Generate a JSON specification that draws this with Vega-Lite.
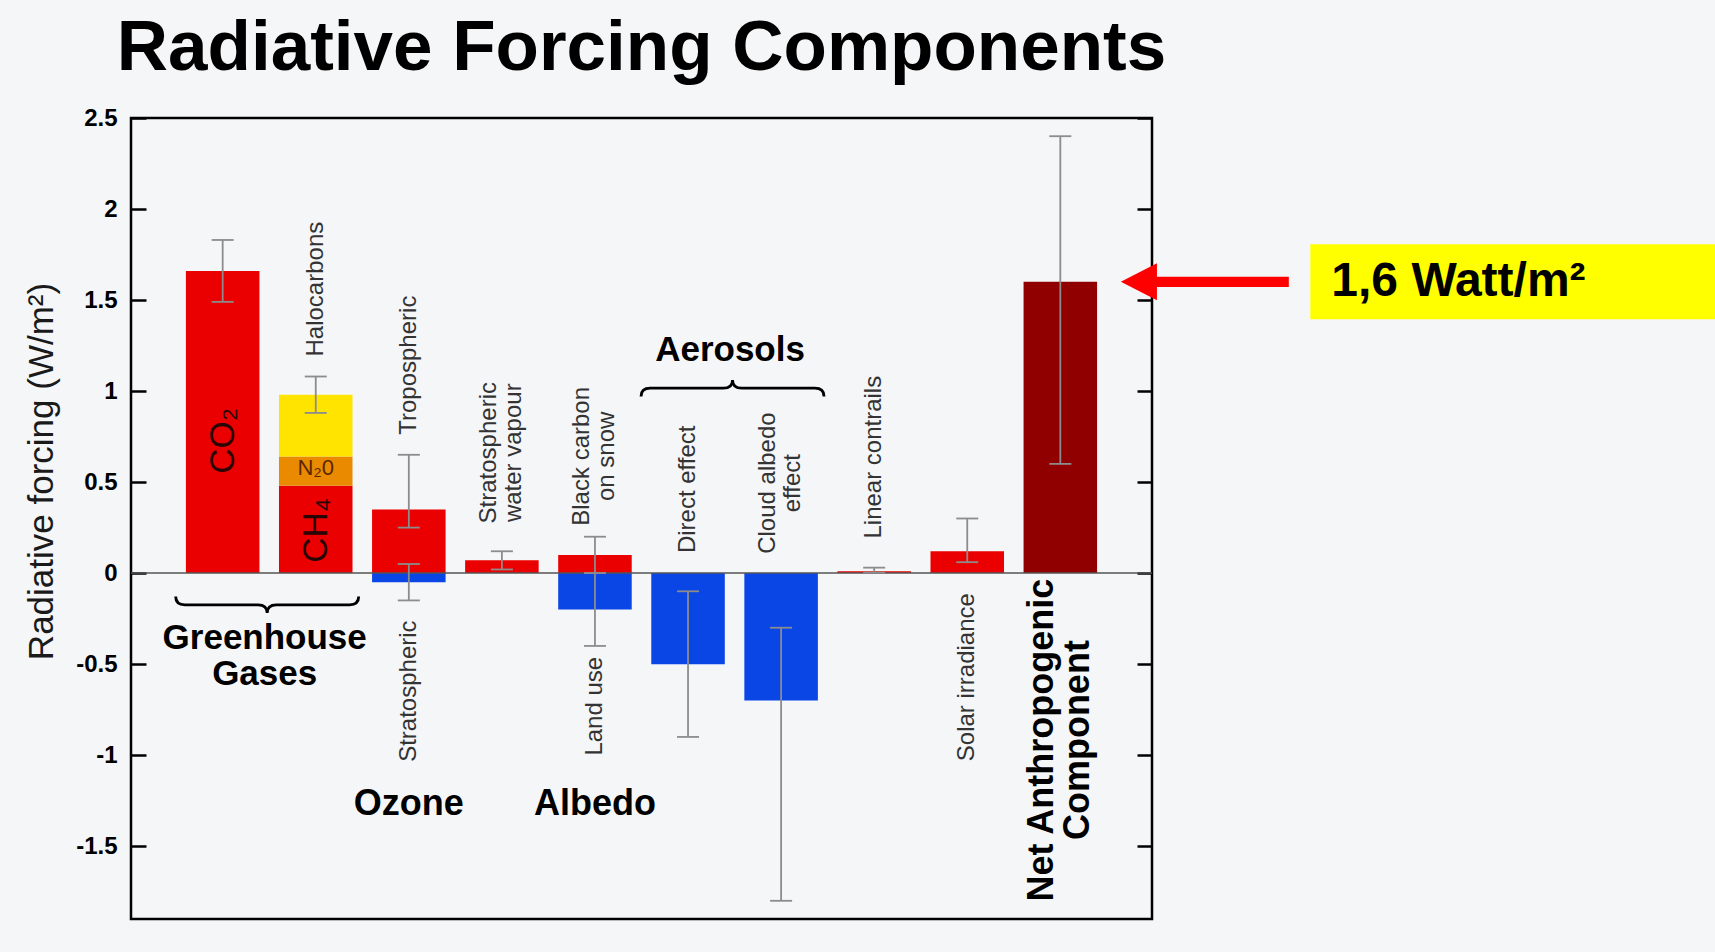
{
  "$schema": "https://vega.github.io/schema/vega-lite/v6.json",
  "width": 1021,
  "height": 801,
  "autosize": {"type": "none"},
  "padding": {"left": 131, "top": 118, "right": 563, "bottom": 33},
  "background": "#f5f6f8",
  "config": {
    "view": {"stroke": "#000000", "strokeWidth": 2.5},
    "font": "Liberation Sans"
  },
  "title": {
    "text": "Radiative Forcing Components",
    "font": "Liberation Sans",
    "fontSize": 71,
    "fontWeight": "bold",
    "color": "#000000",
    "anchor": "middle",
    "frame": "group",
    "baseline": "alphabetic",
    "offset": -35
  },
  "datasets": {
    "forcing": [
      {"cat": "CO2", "part": "CO₂", "value": 1.66, "lo": 1.49, "hi": 1.83, "kind": "Warming"},
      {"cat": "Halocarbons", "part": "CH₄", "value": 0.48, "kind": "Warming"},
      {"cat": "Halocarbons", "part": "N₂O", "value": 0.16, "kind": "N2O"},
      {"cat": "Halocarbons", "part": "Halocarbons", "value": 0.34, "lo": 0.88, "hi": 1.08, "kind": "Halocarbons"},
      {"cat": "Ozone", "part": "Tropospheric", "value": 0.35, "lo": 0.25, "hi": 0.65, "kind": "Warming"},
      {"cat": "Ozone", "part": "Stratospheric", "value": -0.05, "lo": -0.15, "hi": 0.05, "kind": "Cooling"},
      {"cat": "Stratospheric water vapour", "part": "Stratospheric water vapour", "value": 0.07, "lo": 0.02, "hi": 0.12, "kind": "Warming"},
      {"cat": "Albedo", "part": "Black carbon on snow", "value": 0.1, "lo": 0.0, "hi": 0.2, "kind": "Warming"},
      {"cat": "Albedo", "part": "Land use", "value": -0.2, "lo": -0.4, "hi": 0.0, "kind": "Cooling"},
      {"cat": "Aerosol direct effect", "part": "Direct effect", "value": -0.5, "lo": -0.9, "hi": -0.1, "kind": "Cooling"},
      {"cat": "Cloud albedo effect", "part": "Cloud albedo effect", "value": -0.7, "lo": -1.8, "hi": -0.3, "kind": "Cooling"},
      {"cat": "Linear contrails", "part": "Linear contrails", "value": 0.01, "lo": 0.003, "hi": 0.03, "kind": "Warming"},
      {"cat": "Solar irradiance", "part": "Solar irradiance", "value": 0.12, "lo": 0.06, "hi": 0.3, "kind": "Warming"},
      {"cat": "Net anthropogenic", "part": "Net Anthropogenic Component", "value": 1.6, "lo": 0.6, "hi": 2.4, "kind": "Net"}
    ],
    "notes": [
      {"cat": "Halocarbons", "text": "Halocarbons", "at": 1.08, "role": "above"},
      {"cat": "Ozone", "text": "Tropospheric", "at": 0.65, "role": "above"},
      {"cat": "Aerosol direct effect", "text": "Direct effect", "at": 0, "role": "above"},
      {"cat": "Linear contrails", "text": "Linear contrails", "at": 0.08, "role": "above"},
      {"cat": "Stratospheric water vapour", "text": "Stratospheric\nwater vapour", "at": 0.167, "role": "above2"},
      {"cat": "Albedo", "text": "Black carbon\non snow", "at": 0.147, "role": "above2"},
      {"cat": "Cloud albedo effect", "text": "Cloud albedo\neffect", "at": 0, "role": "above2"},
      {"cat": "Ozone", "text": "Stratospheric", "at": -0.15, "role": "below"},
      {"cat": "Albedo", "text": "Land use", "at": -0.35, "role": "below"},
      {"cat": "Solar irradiance", "text": "Solar irradiance", "at": 0, "role": "below"},
      {"cat": "Net anthropogenic", "text": "Net Anthropogenic\nComponent", "at": 0, "role": "net"},
      {"cat": "CO2", "text": "CO₂", "at": 0.727, "role": "inside"},
      {"cat": "Halocarbons", "text": "CH₄", "at": 0.235, "role": "inside"},
      {"cat": "Halocarbons", "text": "N₂0", "at": 0.575, "role": "insideflat"},
      {"cat": "CO2", "text": "Greenhouse\nGases", "at": -0.355, "role": "group2"},
      {"cat": "Aerosol direct effect", "text": "Aerosols", "at": 1.227, "role": "group2"},
      {"cat": "Ozone", "text": "Ozone", "at": -1.267, "role": "group"},
      {"cat": "Albedo", "text": "Albedo", "at": -1.267, "role": "group"},
      {"cat": "Net anthropogenic", "text": "1,6 Watt/m²", "at": 1.6, "role": "callout"}
    ],
    "braces": [
      {"group": "Greenhouse Gases", "cat": "CO2", "at": -0.174, "side": "below"},
      {"group": "Aerosols", "cat": "Aerosol direct effect", "at": 1.016, "side": "above"}
    ]
  },
  "layer": [
    {
      "data": {"name": "notes"},
      "transform": [{"filter": "datum.role == 'callout'"}],
      "mark": {
        "type": "point",
        "shape": "M -1 -0.183 L 1 -0.183 L 1 0.183 L -1 0.183 Z",
        "size": 168100,
        "filled": true,
        "fill": "#ffff00",
        "strokeWidth": 0,
        "opacity": 1,
        "xOffset": 455
      },
      "encoding": {
        "x": {"field": "cat", "type": "nominal", "axis": null},
        "y": {"field": "at", "type": "quantitative", "axis": null}
      }
    },
    {
      "data": {"name": "forcing"},
      "transform": [{"window": [{"op": "row_number", "as": "seq"}]}],
      "mark": {"type": "bar"},
      "encoding": {
        "x": {
          "field": "cat",
          "type": "nominal",
          "axis": null,
          "scale": {
            "domain": ["CO2", "Halocarbons", "Ozone", "Stratospheric water vapour", "Albedo", "Aerosol direct effect", "Cloud albedo effect", "Linear contrails", "Solar irradiance", "Net anthropogenic"],
            "paddingInner": 0.21,
            "paddingOuter": 0.59
          }
        },
        "y": {
          "field": "value",
          "type": "quantitative",
          "stack": "zero",
          "scale": {"domain": [-1.9, 2.5], "nice": false, "zero": false},
          "axis": {
            "orient": "left",
            "title": "Radiative forcing (W/m²)",
            "values": [-1.5, -1, -0.5, 0, 0.5, 1, 1.5, 2, 2.5],
            "labelExpr": "'' + datum.value",
            "labelFont": "Liberation Sans",
            "labelFontSize": 24,
            "labelFontWeight": "bold",
            "labelColor": "#000000",
            "labelFlush": false,
            "labelOverlap": false,
            "labelPadding": 29,
            "tickSize": -15,
            "tickWidth": 2.5,
            "tickColor": "#000000",
            "domain": false,
            "grid": false,
            "titleFont": "Liberation Sans",
            "titleFontSize": 35,
            "titleFontWeight": "normal",
            "titleColor": "#1a1a1a",
            "titleAngle": 270,
            "titleAlign": "center",
            "titleBaseline": "bottom",
            "titleX": -72,
            "titleY": 353
          }
        },
        "color": {
          "field": "kind",
          "type": "nominal",
          "legend": null,
          "scale": {
            "domain": ["Warming", "N2O", "Halocarbons", "Cooling", "Net"],
            "range": ["#ea0000", "#e98a00", "#ffe400", "#0a45e6", "#900000"]
          }
        },
        "order": {"field": "seq", "type": "quantitative"}
      }
    },
    {
      "data": {"values": [{}]},
      "mark": {"type": "rule", "color": "#555555", "strokeWidth": 1.5},
      "encoding": {
        "y": {
          "datum": 0,
          "type": "quantitative",
          "axis": {
            "orient": "right",
            "title": null,
            "labels": false,
            "values": [-1.5, -1, -0.5, 0, 0.5, 1, 1.5, 2, 2.5],
            "tickSize": -15,
            "tickWidth": 2.5,
            "tickColor": "#000000",
            "domain": false,
            "grid": false
          }
        }
      }
    },
    {
      "data": {"name": "forcing"},
      "transform": [{"filter": "isValid(datum.lo)"}],
      "mark": {"type": "rule", "color": "#8c8c8c", "strokeWidth": 1.8},
      "encoding": {
        "x": {"field": "cat", "type": "nominal", "axis": null},
        "y": {"field": "lo", "type": "quantitative", "axis": null},
        "y2": {"field": "hi"}
      }
    },
    {
      "data": {"name": "forcing"},
      "transform": [
        {"filter": "isValid(datum.lo)"},
        {"fold": ["lo", "hi"], "as": ["end", "bound"]}
      ],
      "mark": {"type": "tick", "color": "#8c8c8c", "size": 22, "thickness": 1.8, "orient": "horizontal", "opacity": 1},
      "encoding": {
        "x": {"field": "cat", "type": "nominal", "axis": null},
        "y": {"field": "bound", "type": "quantitative", "axis": null}
      }
    },
    {
      "data": {"name": "notes"},
      "transform": [{"filter": "datum.role == 'above'"}],
      "mark": {"type": "text", "angle": 270, "align": "left", "baseline": "middle", "dx": 20, "fontSize": 24, "font": "Liberation Sans", "color": "#333333"},
      "encoding": {
        "x": {"field": "cat", "type": "nominal", "axis": null},
        "y": {"field": "at", "type": "quantitative", "axis": null},
        "text": {"field": "text"}
      }
    },
    {
      "data": {"name": "notes"},
      "transform": [{"filter": "datum.role == 'above2'"}],
      "mark": {"type": "text", "angle": 270, "align": "center", "baseline": "middle", "dx": 90, "xOffset": -13, "lineBreak": "\n", "lineHeight": 25, "fontSize": 24, "font": "Liberation Sans", "color": "#333333"},
      "encoding": {
        "x": {"field": "cat", "type": "nominal", "axis": null},
        "y": {"field": "at", "type": "quantitative", "axis": null},
        "text": {"field": "text"}
      }
    },
    {
      "data": {"name": "notes"},
      "transform": [{"filter": "datum.role == 'below'"}],
      "mark": {"type": "text", "angle": 270, "align": "right", "baseline": "middle", "dx": -20, "fontSize": 24, "font": "Liberation Sans", "color": "#333333"},
      "encoding": {
        "x": {"field": "cat", "type": "nominal", "axis": null},
        "y": {"field": "at", "type": "quantitative", "axis": null},
        "text": {"field": "text"}
      }
    },
    {
      "data": {"name": "notes"},
      "transform": [{"filter": "datum.role == 'net'"}],
      "mark": {"type": "text", "angle": 270, "align": "center", "baseline": "middle", "dx": -167, "xOffset": -18, "lineBreak": "\n", "lineHeight": 36, "fontSize": 36, "fontWeight": "bold", "font": "Liberation Sans", "color": "#000000"},
      "encoding": {
        "x": {"field": "cat", "type": "nominal", "axis": null},
        "y": {"field": "at", "type": "quantitative", "axis": null},
        "text": {"field": "text"}
      }
    },
    {
      "data": {"name": "notes"},
      "transform": [{"filter": "datum.role == 'inside'"}],
      "mark": {"type": "text", "angle": 270, "align": "center", "baseline": "middle", "fontSize": 35, "font": "Liberation Sans", "color": "#2a0505"},
      "encoding": {
        "x": {"field": "cat", "type": "nominal", "axis": null},
        "y": {"field": "at", "type": "quantitative", "axis": null},
        "text": {"field": "text"}
      }
    },
    {
      "data": {"name": "notes"},
      "transform": [{"filter": "datum.role == 'insideflat'"}],
      "mark": {"type": "text", "align": "center", "baseline": "middle", "fontSize": 22, "font": "Liberation Sans", "color": "#5a2800"},
      "encoding": {
        "x": {"field": "cat", "type": "nominal", "axis": null},
        "y": {"field": "at", "type": "quantitative", "axis": null},
        "text": {"field": "text"}
      }
    },
    {
      "data": {"name": "notes"},
      "transform": [{"filter": "datum.role == 'group'"}],
      "mark": {"type": "text", "align": "center", "baseline": "middle", "fontSize": 36, "fontWeight": "bold", "font": "Liberation Sans", "color": "#000000"},
      "encoding": {
        "x": {"field": "cat", "type": "nominal", "axis": null},
        "y": {"field": "at", "type": "quantitative", "axis": null},
        "text": {"field": "text"}
      }
    },
    {
      "data": {"name": "notes"},
      "transform": [{"filter": "datum.role == 'group2'"}],
      "mark": {"type": "text", "align": "center", "baseline": "middle", "lineBreak": "\n", "lineHeight": 36, "xOffset": 42, "fontSize": 35, "fontWeight": "bold", "font": "Liberation Sans", "color": "#000000"},
      "encoding": {
        "x": {"field": "cat", "type": "nominal", "axis": null},
        "y": {"field": "at", "type": "quantitative", "axis": null},
        "text": {"field": "text"}
      }
    },
    {
      "data": {"name": "braces"},
      "mark": {"type": "point", "filled": false, "stroke": "#000000", "strokeWidth": 2.8, "opacity": 1, "size": 33489, "xOffset": 44.5},
      "encoding": {
        "x": {"field": "cat", "type": "nominal", "axis": null},
        "y": {"field": "at", "type": "quantitative", "axis": null},
        "shape": {
          "field": "side",
          "type": "nominal",
          "legend": null,
          "scale": {
            "domain": ["below", "above"],
            "range": [
              "M -1 -0.09 Q -1 0 -0.9 0 L -0.1 0 Q 0 0 0 0.09 Q 0 0 0.1 0 L 0.9 0 Q 1 0 1 -0.09",
              "M -1 0.09 Q -1 0 -0.9 0 L -0.1 0 Q 0 0 0 -0.09 Q 0 0 0.1 0 L 0.9 0 Q 1 0 1 0.09"
            ]
          }
        }
      }
    },
    {
      "data": {"name": "notes"},
      "transform": [{"filter": "datum.role == 'callout'"}],
      "mark": {
        "type": "point",
        "shape": "M -1 0 L -0.57 -0.22 L -0.57 -0.06 L 1 -0.06 L 1 0.06 L -0.57 0.06 L -0.57 0.22 Z",
        "size": 28224,
        "filled": true,
        "fill": "#ff0000",
        "strokeWidth": 0,
        "opacity": 1,
        "xOffset": 144.5
      },
      "encoding": {
        "x": {"field": "cat", "type": "nominal", "axis": null},
        "y": {"field": "at", "type": "quantitative", "axis": null}
      }
    },
    {
      "data": {"name": "notes"},
      "transform": [{"filter": "datum.role == 'callout'"}],
      "mark": {"type": "text", "align": "left", "baseline": "middle", "dx": 271, "fontSize": 48, "fontWeight": "bold", "font": "Liberation Sans", "color": "#000000"},
      "encoding": {
        "x": {"field": "cat", "type": "nominal", "axis": null},
        "y": {"field": "at", "type": "quantitative", "axis": null},
        "text": {"field": "text"}
      }
    }
  ],
  "resolve": {"axis": {"y": "independent"}}
}
